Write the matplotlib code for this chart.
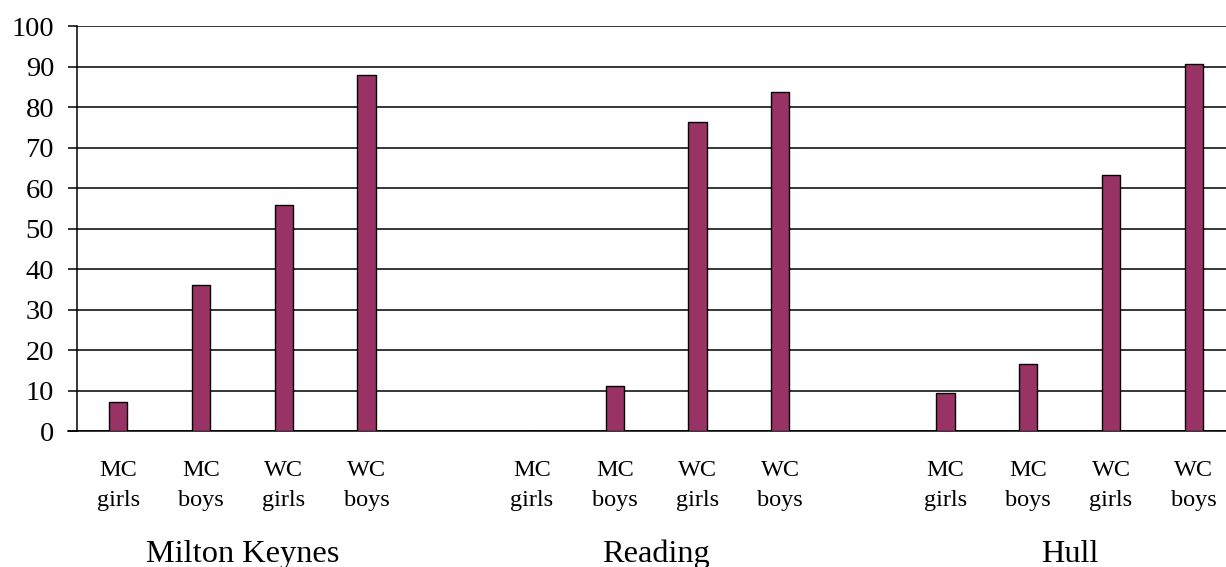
import matplotlib
matplotlib.use("Agg")
import matplotlib.pyplot as plt
import numpy as np

# Percentages by town and pupil group
towns = ["Milton Keynes", "Reading", "Hull"]
groups = ["MC girls", "MC boys", "WC girls", "WC boys"]
milton_keynes = [7.2, 36.2, 55.8, 87.8]
reading = [0.0, 11.3, 76.4, 83.6]
hull = [9.5, 16.5, 63.2, 90.6]
y_ticks = [0, 10, 20, 30, 40, 50, 60, 70, 80, 90, 100]

series = [milton_keynes, reading, hull]
bar_color = "#993366"
serif = ["Liberation Serif", "DejaVu Serif"]

fig = plt.figure(figsize=(12.26, 5.67), dpi=100)
ax = fig.add_axes([77 / 1226, 1 - 431.3 / 567, 1 - 77 / 1226, (431.3 - 26) / 567])

# one empty slot between towns
slot = 0
positions, values, labels = [], [], []
town_centres = []
for t, vals in zip(towns, series):
    xs = []
    for g, v in zip(groups, vals):
        positions.append(slot)
        values.append(v)
        labels.append(g)
        xs.append(slot)
        slot += 1
    town_centres.append(np.mean(xs))
    slot += 1

ax.bar(positions, values, width=0.22, color=bar_color, edgecolor="black",
       linewidth=1.0, zorder=3)

ax.set_xlim(-0.5, 13.39)
ax.set_ylim(0, 100)
ax.set_yticks(y_ticks)
ax.set_yticklabels([str(v) for v in y_ticks], fontfamily=serif, fontsize=20.5)
ax.yaxis.grid(True, color="black", linewidth=1.1, zorder=0)
ax.tick_params(axis="y", length=6.5, width=1.1, pad=10, color="black")
ax.tick_params(axis="x", length=0, labelbottom=False)

for side in ["top", "right"]:
    ax.spines[side].set_visible(False)
ax.spines["left"].set_linewidth(1.1)
ax.spines["bottom"].set_linewidth(1.1)
ax.spines["bottom"].set_bounds(-0.5, 13.39)

tr = ax.get_xaxis_transform()
for x, lab in zip(positions, labels):
    first, second = lab.split(" ")
    ax.text(x, -0.1103, first, transform=tr, ha="center", va="baseline",
            fontfamily=serif, fontsize=17.5)
    ax.text(x, -0.1843, second, transform=tr, ha="center", va="baseline",
            fontfamily=serif, fontsize=17.5)

for x, t in zip(town_centres, towns):
    ax.text(x, -0.3225, t, transform=tr, ha="center", va="baseline",
            fontfamily=serif, fontsize=23.3)

# short tick stub left of the axis on the baseline
ax.plot([-0.5 - 9 / 82.7, -0.5], [0, 0], color="black", lw=1.1,
        clip_on=False, zorder=4)

fig.savefig("out.png", dpi=100)
